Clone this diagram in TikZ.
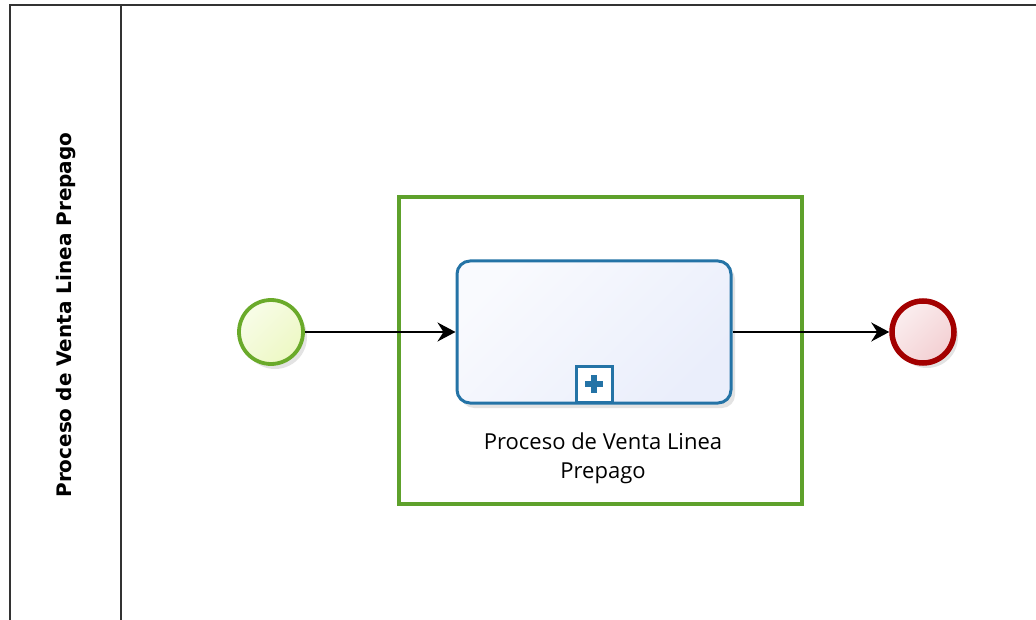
\documentclass[tikz,border=0pt]{standalone}
\usepackage{fontspec}
\setmainfont{DejaVu Sans}
\newfontfamily\taskfont{Open Sans}
\usepackage{tikz}
\usetikzlibrary{positioning, calc, shadows, arrows.meta}

\definecolor{startGreen}{HTML}{6AAA2A}
\definecolor{startFill}{HTML}{EDF8C4}
\definecolor{endRed}{HTML}{A30000}
\definecolor{endFill}{HTML}{F3CFD2}
\definecolor{groupGreen}{HTML}{5EA12B}
\definecolor{taskBlue}{HTML}{2473A6}
\definecolor{taskFill}{HTML}{EAEEFB}

\begin{document}
\begin{tikzpicture}[x=1pt, y=-1pt]
\tikzstyle{softshadow}=[drop shadow={shadow xshift=4pt, shadow yshift=-5pt, opacity=0.18, fill=black!60}]
\tikzstyle{startevent}=[draw=startGreen, circle, line width=3.8pt, inner sep=0pt, minimum size=64pt,
  left color=startFill!40!white, right color=startFill, shading angle=45, softshadow]
\tikzstyle{endevent}=[draw=endRed, circle, line width=5.5pt, inner sep=0pt, minimum size=62pt,
  left color=endFill!35!white, right color=endFill, shading angle=45, softshadow]
\tikzstyle{subprocess}=[draw=taskBlue, line width=3pt, rounded corners=13pt, minimum width=274pt,
  minimum height=142pt, left color=white!70!taskFill, right color=taskFill, shading angle=45, softshadow]
\tikzstyle{expandmark}=[draw=taskBlue, line width=3pt, fill=white, minimum size=36pt, inner sep=0pt]
\tikzstyle{flow}=[line width=2pt, -{Stealth[length=18pt, width=19pt, inset=6pt]}]

\useasboundingbox (0,0) rectangle (1036,620);

% pool and lane header
\draw[line width=1.8pt, black!80] (10,622) -- (10,5) -- (1038,5);
\draw[line width=1.8pt, black!80] (121,5) -- (121,622);
\node (lanelabel) at (66,315) [rotate=90, font=\bfseries\fontsize{20}{24}\selectfont] {Proceso de Venta Linea Prepago};

% group
\node (group) at (600.5,350.5) [draw=groupGreen, line width=4.8pt, minimum width=403pt, minimum height=307pt] {};

% events and task
\node (start) at (271,332) [startevent] {};
\node (task) at (594,332) [subprocess] {};
\node (endev) at (923,332) [endevent] {};

% collapsed marker
\node (marker) at (594,384) [expandmark] {};
\fill[taskBlue] ($(marker)+(-9,-2.8)$) rectangle ($(marker)+(9,2.8)$);
\fill[taskBlue] ($(marker)+(-2.8,-9)$) rectangle ($(marker)+(2.8,9)$);

\node (tasklabel) at ($(task.south)+(9,54)$) [align=center, font=\taskfont\fontsize{22}{29}\selectfont] {Proceso de Venta Linea\\Prepago};

% connections
\draw[flow] (start) -- (task);
\draw[flow] (task) -- (endev);

\end{tikzpicture}
\end{document}
